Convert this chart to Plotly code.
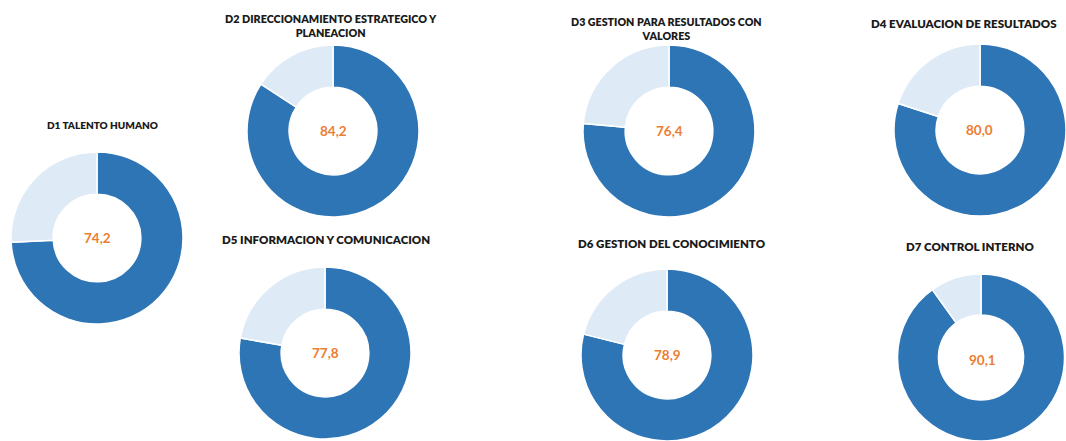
import plotly.graph_objects as go

W, H = 1066, 441

titles = [
    "D1 TALENTO HUMANO",
    "D2 DIRECCIONAMIENTO ESTRATEGICO Y<br>PLANEACION",
    "D3 GESTION PARA RESULTADOS CON<br>VALORES",
    "D4 EVALUACION DE RESULTADOS",
    "D5 INFORMACION Y COMUNICACION",
    "D6 GESTION DEL CONOCIMIENTO",
    "D7 CONTROL INTERNO",
]
scores = [74.2, 84.2, 76.4, 80.0, 77.8, 78.9, 90.1]
labels = ["74,2", "84,2", "76,4", "80,0", "77,8", "78,9", "90,1"]

# layout (pixels): donut center x/y, radius; title center x, top y, font size
cxs = [97, 333, 669, 980, 325, 667, 982]
cys = [238, 131, 131, 130, 353, 355, 360]
rad = 86
txs = [102, 331, 666, 964, 326, 672, 970]
tys = [124, 17, 20, 22, 238, 242, 245]
tsz = [10, 10.8, 10.7, 11.5, 11.5, 11.5, 11.5]

DARK = "#2E75B6"
LIGHT = "#DEEBF7"
ORANGE = "#ED7D31"

fig = go.Figure()
ann = []
for i, (t, s, lab) in enumerate(zip(titles, scores, labels)):
    cx, cy = cxs[i], cys[i]
    x0 = max(0, (cx - rad) / W)
    x1 = min(1, (cx + rad) / W)
    y0 = max(0, 1 - (cy + rad) / H)
    y1 = min(1, 1 - (cy - rad) / H)
    fig.add_trace(go.Pie(
        values=[s, 100 - s],
        labels=["Resultado", "Restante"],
        hole=0.51,
        sort=False,
        direction="clockwise",
        rotation=0,
        marker=dict(colors=[DARK, LIGHT], line=dict(color="white", width=1.5)),
        textinfo="none",
        hoverinfo="label+value",
        showlegend=False,
        domain=dict(x=[x0, x1], y=[y0, y1]),
    ))
    ann.append(dict(x=cx / W, y=1 - cy / H, xref="paper", yref="paper",
                    xanchor="center", yanchor="middle",
                    text="<b>%s</b>" % lab, showarrow=False,
                    font=dict(color=ORANGE, size=13.5, family="Lato")))
    ann.append(dict(x=txs[i] / W, y=1 - (tys[i] - 7) / H, xref="paper", yref="paper",
                    xanchor="center", yanchor="top",
                    text=t, showarrow=False,
                    font=dict(color="#1a1a1a", size=tsz[i], family="Lato", weight=800)))

fig.update_layout(
    width=W, height=H,
    margin=dict(l=0, r=0, t=0, b=0),
    paper_bgcolor="white",
    plot_bgcolor="white",
    annotations=ann,
)
fig.write_html("out.html", config={"displayModeBar": False},
               post_script="document.body.style.margin='0';document.body.style.overflow='hidden';")
